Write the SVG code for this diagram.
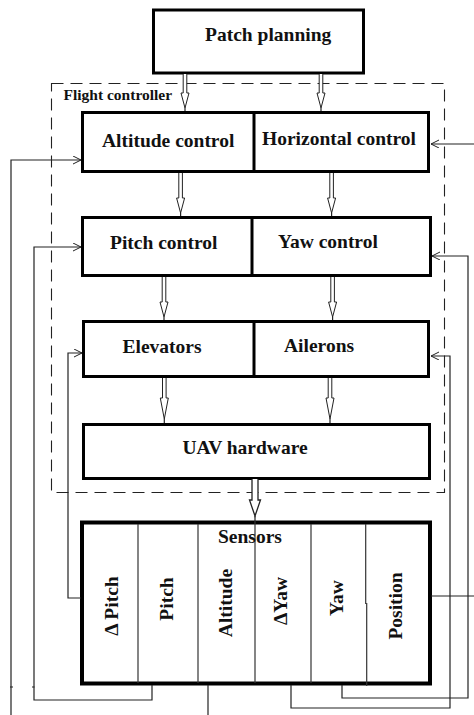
<svg xmlns="http://www.w3.org/2000/svg" width="474" height="715" viewBox="0 0 474 715">
<style>
.box{fill:#fff;stroke:#000;stroke-width:3}
.div{stroke:#000;stroke-width:3}
.sdiv{stroke:#333;stroke-width:1.2}
.lbl{font-family:"Liberation Serif","Times New Roman",serif;font-weight:bold;font-size:19.5px;fill:#111}
.small{font-size:15.5px}
.fb{fill:none;stroke:#222;stroke-width:1.2}
.dbl{fill:#fff;stroke:#222;stroke-width:1}
.dash{fill:none;stroke:#222;stroke-width:1.1;stroke-dasharray:12 7}
</style>
<defs>
<marker id="open" markerWidth="10" markerHeight="10" refX="8" refY="4" orient="auto" markerUnits="userSpaceOnUse">
<path d="M0,0 L8,4 L0,8" fill="none" stroke="#222" stroke-width="1"/>
</marker>
</defs>

<rect id="flight-controller-frame" class="dash" x="51.5" y="83.5" width="393" height="409"/>
<text class="lbl small" x="63.5" y="100">Flight controller</text>

<g id="patch-planning">
<rect class="box" x="153.5" y="10" width="210" height="63"/>
<text class="lbl" x="205" y="40.5">Patch planning</text>
</g>

<g id="altitude-horizontal">
<rect class="box" x="82.5" y="112.5" width="346" height="59"/>
<line class="div" x1="254" y1="112" x2="254" y2="172"/>
<text class="lbl" x="102" y="146.5">Altitude control</text>
<text class="lbl" x="262" y="145">Horizontal control</text>
</g>

<g id="pitch-yaw">
<rect class="box" x="82.5" y="217.5" width="348" height="58"/>
<line class="div" x1="252" y1="217" x2="252" y2="277"/>
<text class="lbl" x="110" y="249">Pitch control</text>
<text class="lbl" x="278" y="247.5">Yaw control</text>
</g>

<g id="elevators-ailerons">
<rect class="box" x="83.5" y="321.5" width="345" height="55"/>
<line class="div" x1="254" y1="321" x2="254" y2="378"/>
<text class="lbl" x="122.5" y="352.5">Elevators</text>
<text class="lbl" x="284" y="351.5">Ailerons</text>
</g>

<g id="uav-hardware">
<rect class="box" x="83.5" y="424.5" width="346" height="54"/>
<text class="lbl" x="182.5" y="454">UAV hardware</text>
</g>

<g id="sensors">
<rect class="box" x="82" y="522.5" width="348" height="161" style="stroke-width:4"/>
<line class="sdiv" x1="138" y1="524" x2="138" y2="683"/>
<line class="sdiv" x1="198" y1="524" x2="198" y2="683"/>
<line class="sdiv" x1="255" y1="521" x2="255" y2="683"/>
<line class="sdiv" x1="311" y1="524" x2="311" y2="683"/>
<line class="sdiv" x1="365.7" y1="524" x2="365.7" y2="604"/>
<line class="sdiv" x1="366.7" y1="603" x2="366.7" y2="686"/>
<text class="lbl" x="218" y="543">Sensors</text>
<text class="lbl" text-anchor="middle" transform="translate(118,606) rotate(-90)">Δ Pitch</text>
<text class="lbl" text-anchor="middle" transform="translate(173,599) rotate(-90)">Pitch</text>
<text class="lbl" text-anchor="middle" transform="translate(232,603) rotate(-90)">Altitude</text>
<text class="lbl" text-anchor="middle" transform="translate(287,601) rotate(-90)">ΔYaw</text>
<text class="lbl" text-anchor="middle" transform="translate(343,598) rotate(-90)">Yaw</text>
<text class="lbl" text-anchor="middle" transform="translate(402,606) rotate(-90)">Position</text>
</g>

<g id="connectors">
<path class="dbl" d="M183.2,74 V93 H181 L185,108 L189,93 H186.8 V74"/><line class="fb" x1="185" y1="108" x2="185" y2="111"/>
<path class="dbl" d="M319.2,74 V93 H317 L321,108 L325,93 H322.8 V74"/><line class="fb" x1="321" y1="108" x2="321" y2="111"/>
<path class="dbl" d="M178.8,173 V198 H176.6 L180.6,213 L184.6,198 H182.4 V173"/><line class="fb" x1="180.6" y1="213" x2="180.6" y2="216"/>
<path class="dbl" d="M329.8,173 V198 H327.6 L331.6,213 L335.6,198 H333.4 V173"/><line class="fb" x1="331.6" y1="213" x2="331.6" y2="216"/>
<path class="dbl" d="M162.2,277 V302 H160 L164,317 L168,302 H165.8 V277"/><line class="fb" x1="164" y1="317" x2="164" y2="320"/>
<path class="dbl" d="M330.8,277 V302 H328.6 L332.6,317 L336.6,302 H334.4 V277"/><line class="fb" x1="332.6" y1="317" x2="332.6" y2="320"/>
<path class="dbl" d="M162.5,378 V398 H160.3 L164.3,419 L168.3,398 H166.1 V378"/><line class="fb" x1="164.3" y1="419" x2="164.3" y2="423"/>
<path class="dbl" d="M328.2,378 V398 H326 L330,419 L334,398 H331.8 V378"/><line class="fb" x1="330" y1="419" x2="330" y2="423"/>
<path class="dbl" style="stroke-width:1.3" d="M252,479 V500 H249.5 L255,516 L260.5,500 H258 V479"/><line class="fb" x1="255" y1="516" x2="255" y2="521"/>

<path class="fb" marker-end="url(#open)" d="M11,715 V160 H81"/>
<path class="fb" marker-end="url(#open)" d="M152,685 V700 H34 V247 H81"/>
<path class="fb" marker-end="url(#open)" d="M81,598 H68 V353 H82"/>
<path class="fb" d="M208,685 V715"/>
<path class="fb" marker-end="url(#open)" d="M291,685 V708 H450 V356 H431"/>
<path class="fb" marker-end="url(#open)" d="M342,685 V698 H468 V256 H432"/>
<path class="fb" d="M431,596 H474"/>
<path class="fb" marker-end="url(#open)" d="M474,144 H431"/>
<path class="fb" d="M10,687 H13 M32,687 H34.5"/>
</g>
</svg>
